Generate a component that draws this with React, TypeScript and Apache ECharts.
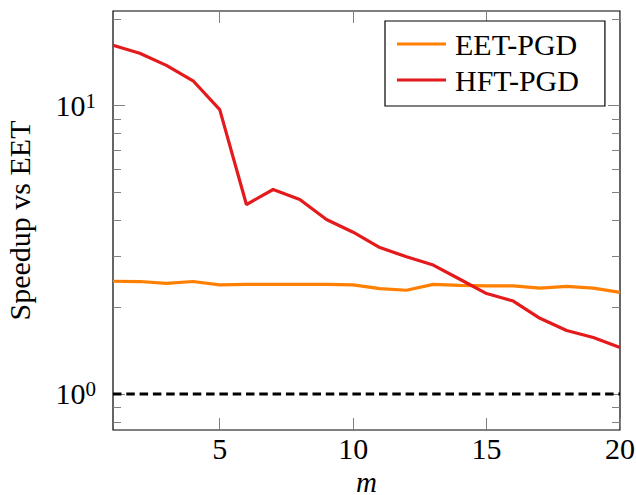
import React, { useEffect, useRef } from "react";
import * as echarts from "echarts";

// Number of terms m
const m = [1, 2, 3, 4, 5, 6, 7, 8, 9, 10, 11, 12, 13, 14, 15, 16, 17, 18, 19, 20];
// Speedup relative to EET
const eetPgd = [2.46, 2.455, 2.42, 2.455, 2.39, 2.4, 2.4, 2.4, 2.4, 2.39, 2.32, 2.29, 2.4, 2.38, 2.37, 2.37, 2.33, 2.36, 2.33, 2.25];
const hftPgd = [16.2, 15.2, 13.8, 12.2, 9.69, 4.54, 5.12, 4.73, 4.03, 3.64, 3.22, 2.99, 2.8, 2.5, 2.23, 2.1, 1.83, 1.66, 1.57, 1.45];
// Break-even reference
const parity = 1;

const xTicks = [5, 10, 15, 20];
const yMajorTicks = [1, 10];
const yMinorTicks = [0.8, 0.9, 2, 3, 4, 5, 6, 7, 8, 9, 20];
const yMin = 0.75;
const yMax = 21.3;

const FONT = "'Liberation Serif', 'DejaVu Serif', serif";
const TICK_COLOR = "#808080";

function logAxis(position: "left" | "right", ticks: number[], len: number, withLabels: boolean) {
  return {
    type: "log",
    logBase: 10,
    position,
    min: yMin,
    max: yMax,
    axisLine: { show: false },
    splitLine: { show: false },
    minorTick: { show: false },
    axisTick: {
      show: true,
      inside: true,
      length: len,
      customValues: ticks,
      lineStyle: { color: TICK_COLOR, width: 1 },
    },
    axisLabel: withLabels
      ? {
          show: true,
          customValues: ticks,
          margin: 17,
          formatter: (v: number) => `{b|10}{s|${Math.round(Math.log10(v))}}`,
          rich: {
            b: { fontFamily: FONT, fontSize: 30, lineHeight: 30, color: "#000", verticalAlign: "bottom" },
            s: { fontFamily: FONT, fontSize: 21, lineHeight: 21, color: "#000", verticalAlign: "top" },
          },
        }
      : { show: false },
  };
}

export default function App() {
  const ref = useRef<HTMLDivElement>(null);

  useEffect(() => {
    if (!ref.current) return;
    const chart = echarts.init(ref.current, null, { renderer: "svg" });

    const yAxisBase = logAxis("left", yMajorTicks, 12, true);
    chart.setOption({
      animation: false,
      backgroundColor: "#fff",
      grid: {
        left: 113,
        right: 16,
        top: 11,
        bottom: 65,
        show: true,
        borderColor: "#000",
        borderWidth: 1.2,
        backgroundColor: "transparent",
        outerBoundsMode: "none",
      },
      legend: {
        orient: "vertical",
        left: 385,
        top: 21,
        data: ["EET-PGD", "HFT-PGD"],
        icon: "rect",
        itemWidth: 49,
        itemHeight: 3,
        itemGap: 6,
        padding: [8, 26, 11, 12],
        backgroundColor: "#fff",
        borderColor: "#000",
        borderWidth: 1.2,
        borderRadius: 0,
        textStyle: {
          fontFamily: FONT,
          fontSize: 30,
          lineHeight: 30,
          color: "#000",
          padding: [0, 0, 0, 4],
        },
      },
      xAxis: [
        {
          type: "value",
          position: "bottom",
          min: m[0],
          max: m[m.length - 1],
          name: "m",
          nameLocation: "middle",
          nameGap: 27,
          nameTextStyle: { fontFamily: FONT, fontSize: 29, lineHeight: 26, fontStyle: "italic", color: "#000" },
          axisLine: { show: false },
          splitLine: { show: false },
          axisTick: {
            show: true,
            inside: true,
            length: 12,
            customValues: xTicks,
            lineStyle: { color: TICK_COLOR, width: 1 },
          },
          axisLabel: {
            customValues: xTicks,
            margin: 3,
            fontFamily: FONT,
            fontSize: 30,
            color: "#000",
          },
        },
        {
          type: "value",
          position: "top",
          min: m[0],
          max: m[m.length - 1],
          axisLine: { show: false },
          splitLine: { show: false },
          axisTick: {
            show: true,
            inside: true,
            length: 12,
            customValues: xTicks,
            lineStyle: { color: TICK_COLOR, width: 1 },
          },
          axisLabel: { show: false },
        },
      ],
      yAxis: [
        {
          ...yAxisBase,
          name: "Speedup vs EET",
          nameLocation: "middle",
          nameGap: 79,
          nameRotate: 90,
          nameTextStyle: { fontFamily: FONT, fontSize: 30, color: "#000" },
        },
        logAxis("left", yMinorTicks, 8, false),
        logAxis("right", yMajorTicks, 12, false),
        logAxis("right", yMinorTicks, 8, false),
      ],
      series: [
        {
          name: "parity",
          type: "line",
          xAxisIndex: 0,
          yAxisIndex: 0,
          data: [
            [m[0], parity],
            [m[m.length - 1], parity],
          ],
          showSymbol: false,
          symbol: "none",
          lineStyle: { color: "#000", width: 3, type: [8.5, 4.8] },
          silent: true,
          z: 2,
        },
        {
          name: "EET-PGD",
          type: "line",
          xAxisIndex: 0,
          yAxisIndex: 0,
          data: m.map((x, i) => [x, eetPgd[i]]),
          symbol: "none",
          color: "#FF7F00",
          lineStyle: { color: "#FF7F00", width: 3.2 },
          z: 3,
        },
        {
          name: "HFT-PGD",
          type: "line",
          xAxisIndex: 0,
          yAxisIndex: 0,
          data: m.map((x, i) => [x, hftPgd[i]]),
          symbol: "none",
          color: "#E41A1C",
          lineStyle: { color: "#E41A1C", width: 3.2 },
          z: 4,
        },
      ],
    });

    return () => chart.dispose();
  }, []);

  return (
    <div
      ref={ref}
      style={{ position: "absolute", left: 0, top: 0, width: 636, height: 495 }}
    />
  );
}
